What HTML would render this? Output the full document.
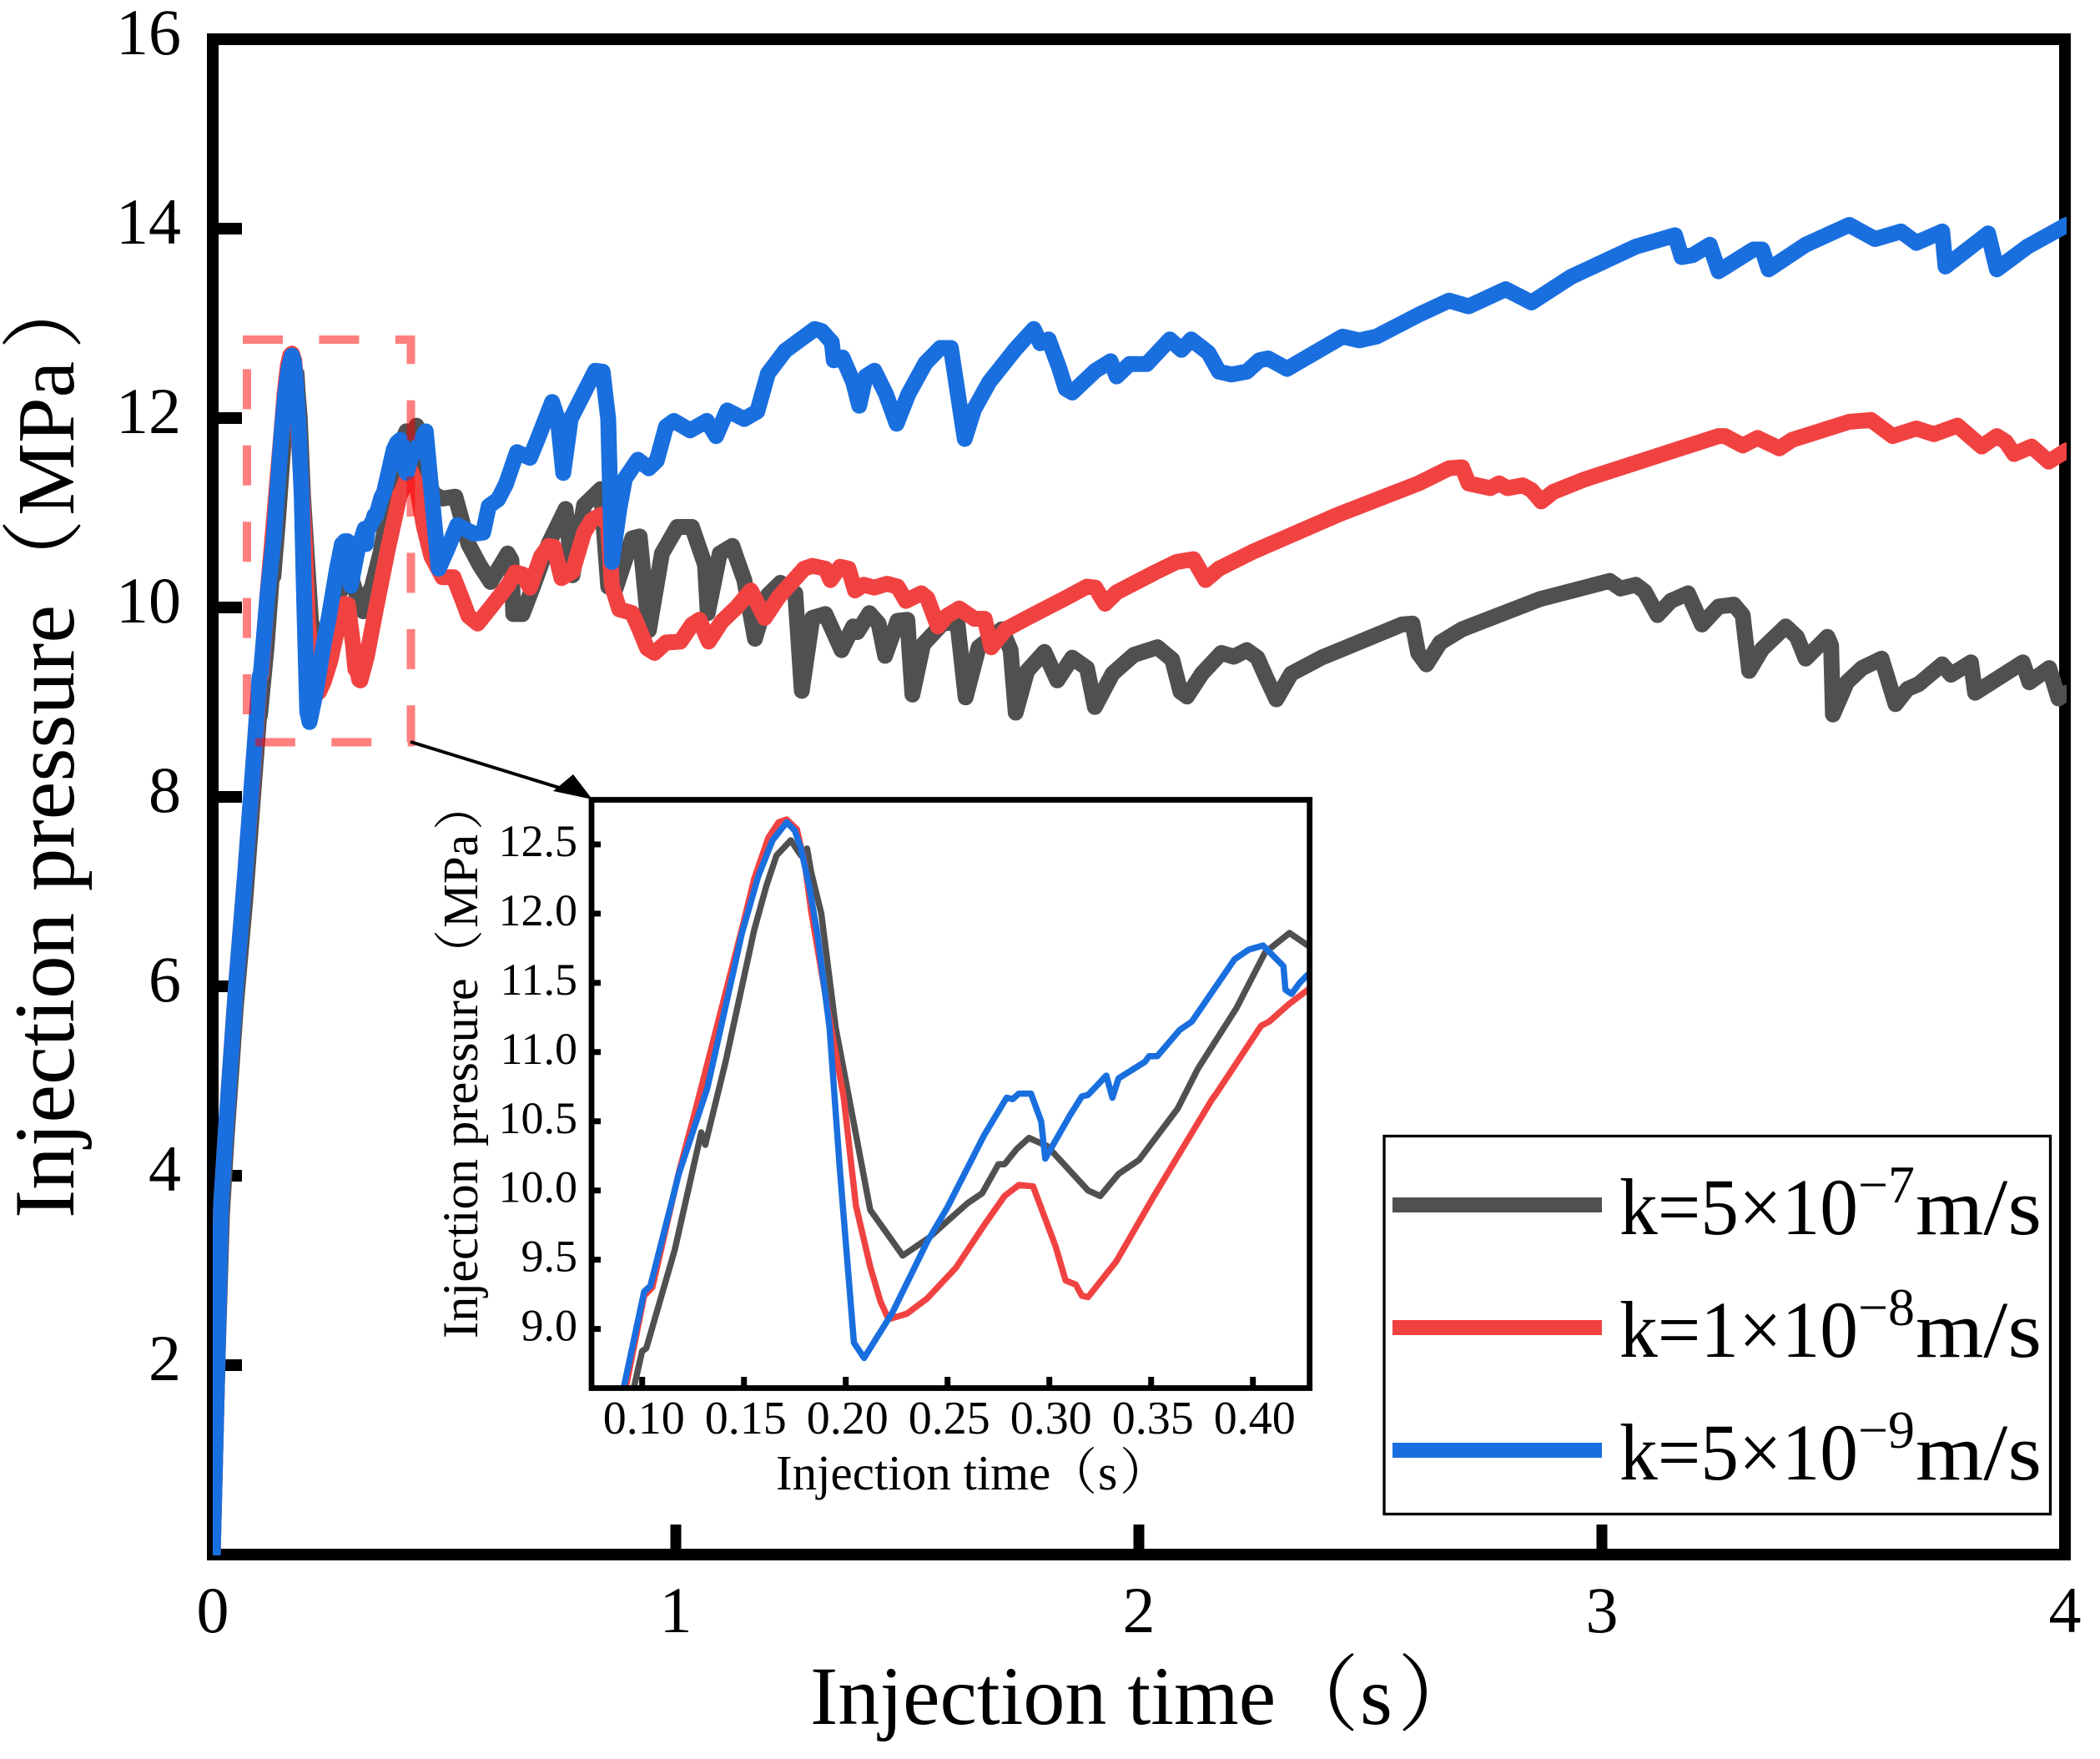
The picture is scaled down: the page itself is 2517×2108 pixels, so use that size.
<!DOCTYPE html>
<html lang="en">
<head>
<meta charset="utf-8">
<title>Injection pressure vs injection time</title>
<style>
html,body{margin:0;padding:0;background:#fff;width:2517px;height:2108px;overflow:hidden;}
svg{display:block;overflow:hidden;}
text{font-family:"Liberation Serif","Noto Serif CJK SC",serif;fill:#000;}
</style>
</head>
<body>
<svg id="chart" xmlns="http://www.w3.org/2000/svg" width="2517" height="2108" viewBox="0 0 2517 2108">
  <defs>
    <clipPath id="main-clip"><rect x="255" y="47" width="2222" height="1817"/></clipPath>
    <clipPath id="inset-clip"><rect x="706" y="957" width="864" height="707"/></clipPath>
  </defs>
  <rect x="255" y="47" width="2220" height="1816" fill="none" stroke="#000" stroke-width="14"/>
  <g id="main-ticks"></g>
  <g id="main-series" clip-path="url(#main-clip)"></g>
  <path d="M291 407H492.5V889.5H296V407" fill="none" stroke="#ff0000" stroke-opacity="0.5" stroke-width="10" stroke-dasharray="48 43.4"/>
  <line x1="492" y1="889" x2="680" y2="947" stroke="#000" stroke-width="4"/>
  <polygon points="663,948 687,928 710,958" fill="#000"/>

  <rect x="709" y="958.5" width="860.7" height="705" fill="#fff"/>
  <g id="inset-ticks"></g>
  <g id="inset-series" clip-path="url(#inset-clip)"></g>
  <rect x="709" y="958.5" width="860.7" height="705" fill="none" stroke="#000" stroke-width="6.8"/>

  <text font-size="100" y="2066"><tspan x="971">Injection time</tspan><tspan x="1529">（</tspan><tspan x="1630">s</tspan><tspan x="1675">）</tspan></text>
  <text font-size="103" transform="translate(88,1460) rotate(-90)"><tspan x="0">Injection pressure</tspan><tspan x="738" font-size="100">（</tspan><tspan x="842" font-size="98">MPa</tspan><tspan x="1041" font-size="100">）</tspan></text>
  <text font-size="59" y="1785"><tspan x="930">Injection time</tspan><tspan x="1255" font-size="60">（</tspan><tspan x="1316" font-size="60">s</tspan><tspan x="1342" font-size="60">）</tspan></text>
  <text font-size="60.5" transform="translate(572,1604) rotate(-90)"><tspan x="0">Injection pressure</tspan><tspan x="430" font-size="60">（</tspan><tspan x="492" font-size="59.3">MPa</tspan><tspan x="609" font-size="60">）</tspan></text>

  <g>
    <rect x="1659" y="1361.5" width="798.5" height="453" fill="#fff" stroke="#000" stroke-width="3.3"/>
    <rect x="1669" y="1435" width="251" height="18" fill="#505050"/>
    <text font-size="96" y="1479"><tspan x="1941" textLength="286" lengthAdjust="spacingAndGlyphs">k=5×10</tspan><tspan x="2227" y="1441" font-size="63" textLength="68" lengthAdjust="spacingAndGlyphs">−7</tspan><tspan x="2296" y="1479" textLength="151" lengthAdjust="spacingAndGlyphs">m/s</tspan></text>
    <rect x="1669" y="1582" width="251" height="18" fill="#F14242"/>
    <text font-size="96" y="1626"><tspan x="1941" textLength="286" lengthAdjust="spacingAndGlyphs">k=1×10</tspan><tspan x="2227" y="1588" font-size="63" textLength="68" lengthAdjust="spacingAndGlyphs">−8</tspan><tspan x="2296" y="1626" textLength="151" lengthAdjust="spacingAndGlyphs">m/s</tspan></text>
    <rect x="1669" y="1729" width="251" height="18" fill="#1A6FDF"/>
    <text font-size="96" y="1773"><tspan x="1941" textLength="286" lengthAdjust="spacingAndGlyphs">k=5×10</tspan><tspan x="2227" y="1735" font-size="63" textLength="68" lengthAdjust="spacingAndGlyphs">−9</tspan><tspan x="2296" y="1773" textLength="151" lengthAdjust="spacingAndGlyphs">m/s</tspan></text>
  </g>
</svg>
<script>
const mainXTicks = [0, 1, 2, 3, 4];
const mainXTickMarks = [1, 2, 3];
const mainYTicks = [2, 4, 6, 8, 10, 12, 14, 16];
const mainYTickMarks = [2, 4, 6, 8, 10, 12, 14];
const insetXTicks = [0.10, 0.15, 0.20, 0.25, 0.30, 0.35, 0.40];
const insetYTicks = [9.0, 9.5, 10.0, 10.5, 11.0, 11.5, 12.0, 12.5];

const greyTimes = [0,.01,.02,.03,.05,.07,.096,.1,.102,.116,.129,.131,.141,.155,.161,.166,.173,.178,.181,.183,.188,.195,.212,.228,.241,.25,.26,.267,.275,.278,.284,.29,.299,.319,.325,.334,.344,.363,.373,.392,.406,.418,.427,.44,.456,.476,.496,.524,.552,.576,.6,.637,.645,.649,.669,.697,.725,.762,.777,.794,.802,.838,.854,.87,.906,.922,.942,.97,1.003,1.035,1.063,1.069,1.095,1.122,1.148,1.171,1.199,1.226,1.258,1.272,1.295,1.323,1.358,1.383,1.392,1.418,1.438,1.452,1.479,1.5,1.511,1.534,1.576,1.608,1.626,1.654,1.704,1.723,1.734,1.759,1.796,1.824,1.856,1.888,1.905,1.943,1.989,2.04,2.072,2.09,2.104,2.136,2.178,2.205,2.233,2.256,2.274,2.297,2.329,2.394,2.449,2.568,2.591,2.603,2.621,2.651,2.698,2.867,3.017,3.04,3.073,3.092,3.12,3.149,3.186,3.216,3.252,3.285,3.304,3.318,3.346,3.397,3.421,3.44,3.487,3.495,3.499,3.529,3.562,3.604,3.634,3.66,3.684,3.735,3.754,3.797,3.806,3.909,3.923,3.966,3.986,4.004];
const greyPressure = [0,2,3.6,4.4,5.8,6.9,8.58,8.84,8.86,9.57,10.42,10.33,10.93,11.88,12.2,12.42,12.53,12.42,12.47,12.3,12,11.18,9.86,9.53,9.66,9.78,9.91,9.98,10.19,10.19,10.3,10.38,10.32,10,9.96,10.12,10.22,10.59,10.88,11.32,11.72,11.86,11.77,11.92,11.5,11.2,11.15,11.17,10.67,10.45,10.27,10.57,10.5,9.93,9.93,10.29,10.67,11.04,10.34,10.86,11.08,11.25,10.22,10.2,10.73,10.75,9.76,10.57,10.85,10.85,10.45,9.94,10.57,10.65,10.29,9.67,10.13,10.26,10.15,9.12,9.89,9.93,9.55,9.8,9.74,9.94,9.83,9.49,9.86,9.87,9.08,9.61,9.83,9.85,9.05,9.58,9.77,9.55,8.89,9.33,9.53,9.23,9.47,9.36,8.95,9.3,9.5,9.58,9.45,9.11,9.06,9.3,9.52,9.48,9.55,9.47,9.27,9.03,9.3,9.47,9.58,9.82,9.83,9.52,9.4,9.63,9.77,10.09,10.28,10.2,10.24,10.17,9.92,10.07,10.15,9.82,10.01,10.03,9.92,9.33,9.56,9.8,9.69,9.46,9.69,9.6,8.87,9.21,9.36,9.46,8.98,9.14,9.19,9.4,9.29,9.42,9.1,9.42,9.21,9.36,9.04,9.1];

const redTimes = [0,.01,.018,.03,.05,.07,.092,.101,.105,.118,.126,.149,.155,.162,.167,.171,.176,.18,.183,.192,.199,.205,.212,.217,.221,.23,.24,.254,.268,.278,.285,.292,.303,.308,.313,.316,.319,.333,.351,.364,.38,.382,.404,.408,.418,.427,.44,.456,.472,.496,.52,.54,.552,.572,.6,.637,.653,.669,.685,.709,.725,.737,.753,.777,.802,.818,.838,.854,.862,.878,.906,.922,.938,.954,.979,1.01,1.035,1.051,1.071,1.099,1.131,1.162,1.192,1.222,1.277,1.295,1.323,1.334,1.355,1.373,1.387,1.406,1.429,1.456,1.479,1.497,1.53,1.543,1.566,1.585,1.612,1.645,1.667,1.681,1.713,1.759,1.842,1.888,1.906,1.927,1.952,2.035,2.081,2.118,2.144,2.173,2.247,2.43,2.604,2.67,2.698,2.712,2.759,2.778,2.796,2.829,2.848,2.869,2.895,2.961,3.252,3.266,3.304,3.336,3.383,3.411,3.534,3.581,3.628,3.679,3.717,3.768,3.82,3.853,3.872,3.89,3.928,3.965,4.004];
const redPressure = [0,2,3.7,4.6,6,7.2,8.58,9.24,9.3,10.13,10.57,11.89,12.25,12.55,12.66,12.68,12.61,12.35,12.02,11.24,10.67,9.89,9.45,9.2,9.07,9.11,9.22,9.44,9.75,9.96,10.04,10.03,9.6,9.35,9.32,9.24,9.23,9.49,9.95,10.27,10.66,10.7,11.19,11.22,11.35,11.45,11.3,10.855,10.54,10.32,10.32,10.07,9.91,9.83,10,10.23,10.37,10.35,10.21,10.54,10.65,10.64,10.31,10.38,10.79,10.92,10.98,10.86,10.23,9.98,9.94,9.76,9.57,9.52,9.63,9.64,9.82,9.87,9.64,9.85,10,10.18,9.89,10.11,10.41,10.44,10.41,10.29,10.43,10.41,10.18,10.24,10.21,10.25,10.22,10.07,10.15,10.1,9.8,9.91,9.99,9.88,9.88,9.58,9.77,9.89,10.1,10.22,10.21,10.04,10.16,10.37,10.48,10.51,10.29,10.41,10.59,10.98,11.31,11.47,11.48,11.31,11.26,11.31,11.26,11.29,11.24,11.12,11.22,11.35,11.81,11.81,11.71,11.79,11.68,11.77,11.96,11.98,11.81,11.89,11.83,11.92,11.7,11.81,11.75,11.62,11.7,11.54,11.66];

const blueTimes = [0,.01,.018,.03,.05,.07,.091,.101,.104,.118,.132,.149,.157,.164,.171,.175,.178,.182,.186,.192,.197,.204,.209,.223,.24,.25,.268,.279,.282,.285,.291,.296,.298,.31,.316,.319,.328,.331,.334,.347,.349,.353,.364,.37,.391,.398,.405,.415,.416,.419,.423,.427,.46,.488,.508,.528,.564,.584,.596,.616,.633,.657,.685,.701,.733,.745,.757,.773,.802,.826,.842,.854,.862,.878,.89,.918,.942,.959,.979,.996,1.031,1.067,1.087,1.111,1.148,1.176,1.199,1.236,1.3,1.315,1.337,1.341,1.36,1.383,1.396,1.41,1.429,1.454,1.477,1.502,1.539,1.571,1.594,1.624,1.644,1.677,1.732,1.773,1.787,1.805,1.828,1.842,1.856,1.906,1.939,1.952,1.98,2.017,2.067,2.092,2.113,2.15,2.173,2.2,2.233,2.26,2.279,2.32,2.44,2.476,2.513,2.604,2.67,2.712,2.792,2.848,2.933,3.073,3.158,3.172,3.196,3.233,3.252,3.327,3.346,3.36,3.44,3.534,3.59,3.646,3.679,3.735,3.742,3.834,3.853,3.919,4.004];
const bluePressure = [0,2,3.7,4.6,6,7.2,8.58,9.27,9.31,10.12,10.74,11.86,12.27,12.53,12.66,12.6,12.47,12.2,11.86,11.18,10.17,8.9,8.79,9.12,9.63,9.88,10.4,10.67,10.66,10.7,10.7,10.5,10.23,10.54,10.68,10.69,10.83,10.67,10.81,10.93,10.97,10.97,11.16,11.22,11.67,11.74,11.77,11.62,11.45,11.42,11.5,11.56,11.86,10.41,10.63,10.87,10.78,10.79,11.07,11.14,11.3,11.64,11.58,11.77,12.17,11.99,11.42,11.99,12.27,12.5,12.49,11.99,10.48,11.04,11.36,11.56,11.47,11.55,11.91,11.97,11.87,11.97,11.81,12.08,11.99,12.07,12.47,12.71,12.94,12.92,12.8,12.61,12.64,12.38,12.13,12.44,12.5,12.25,11.94,12.25,12.58,12.74,12.74,11.78,12.09,12.38,12.72,12.94,12.79,12.83,12.53,12.31,12.27,12.5,12.6,12.44,12.57,12.57,12.83,12.72,12.83,12.69,12.49,12.46,12.49,12.61,12.63,12.52,12.86,12.82,12.86,13.09,13.24,13.18,13.36,13.22,13.49,13.81,13.93,13.7,13.72,13.83,13.55,13.78,13.78,13.57,13.83,14.04,13.89,13.97,13.85,13.97,13.6,13.95,13.57,13.81,14.04];

const SVG_NS = 'http://www.w3.org/2000/svg';
const COLOR_GREY = '#505050';
const COLOR_RED = '#F14242';
const COLOR_BLUE = '#1A6FDF';

function mainX(t) { return 255 + 555 * t; }
function mainY(v) { return 1863 - 113.5 * v; }
function insetX(t) { return 769.7 + 2440 * (t - 0.1); }
function insetY(v) { return 1592.6 - 165.9 * (v - 9); }

function drawSeries(parent, times, pressures, xScale, yScale, color, width, name) {
  const el = document.createElementNS(SVG_NS, 'path');
  
  
  let d = '';
  const n = Math.min(times.length, pressures.length);
  for (let i = 0; i < n; i++) {
    d += (i ? 'L' : 'M') + xScale(times[i]).toFixed(1) + ' ' + yScale(pressures[i]).toFixed(1);
  }
  el.setAttribute('d', d);
  el.setAttribute('fill', 'none');
  el.setAttribute('stroke', color);
  el.setAttribute('stroke-width', width);
  el.setAttribute('stroke-linejoin', 'round');
  el.setAttribute('stroke-linecap', 'round');
  parent.appendChild(el);
}

function drawTickMark(parent, x1, y1, x2, y2, width, name) {
  const el = document.createElementNS(SVG_NS, 'line');
  
  
  el.setAttribute('x1', x1);
  el.setAttribute('y1', y1);
  el.setAttribute('x2', x2);
  el.setAttribute('y2', y2);
  el.setAttribute('stroke', '#000');
  el.setAttribute('stroke-width', width);
  parent.appendChild(el);
}

function drawTickLabel(parent, x, y, label, size, anchor, name) {
  const el = document.createElementNS(SVG_NS, 'text');
  
  
  el.setAttribute('x', x);
  el.setAttribute('y', y);
  el.setAttribute('font-size', size);
  el.setAttribute('text-anchor', anchor);
  el.textContent = label;
  parent.appendChild(el);
}

const mainTicks = document.getElementById('main-ticks');
const insetTicks = document.getElementById('inset-ticks');
const mainSeries = document.getElementById('main-series');
const insetSeries = document.getElementById('inset-series');

mainYTickMarks.forEach(function (v) {
  drawTickMark(mainTicks, 255, mainY(v), 290, mainY(v), 14, 'y-tick-mark-' + v);
});
mainXTickMarks.forEach(function (t) {
  drawTickMark(mainTicks, mainX(t), 1863, mainX(t), 1827, 13, 'x-tick-mark-' + t);
});
mainYTicks.forEach(function (v) {
  drawTickLabel(mainTicks, 217, mainY(v) + 18, String(v), 78, 'end', 'y-tick-label-' + v);
});
mainXTicks.forEach(function (t) {
  drawTickLabel(mainTicks, mainX(t), 1956, String(t), 78, 'middle', 'x-tick-label-' + t);
});

drawSeries(mainSeries, greyTimes, greyPressure, mainX, mainY, COLOR_GREY, 19, 'series-k-5e-7');
drawSeries(mainSeries, redTimes, redPressure, mainX, mainY, COLOR_RED, 19, 'series-k-1e-8');
drawSeries(mainSeries, blueTimes, bluePressure, mainX, mainY, COLOR_BLUE, 19, 'series-k-5e-9');

insetYTicks.forEach(function (v) {
  drawTickMark(insetTicks, 706, insetY(v), 720, insetY(v), 7, 'inset-y-tick-mark-' + v);
  drawTickLabel(insetTicks, 692, insetY(v) + 14, v.toFixed(1), 54, 'end', 'inset-y-tick-label-' + v);
});
insetXTicks.forEach(function (t) {
  drawTickMark(insetTicks, insetX(t), 1664, insetX(t), 1650, 7, 'inset-x-tick-mark-' + t);
  drawTickLabel(insetTicks, insetX(t) + 2, 1718, t.toFixed(2), 56, 'middle', 'inset-x-tick-label-' + t);
});

drawSeries(insetSeries, greyTimes, greyPressure, insetX, insetY, COLOR_GREY, 7.5, 'inset-series-k-5e-7');
drawSeries(insetSeries, redTimes, redPressure, insetX, insetY, COLOR_RED, 7.5, 'inset-series-k-1e-8');
drawSeries(insetSeries, blueTimes, bluePressure, insetX, insetY, COLOR_BLUE, 7.5, 'inset-series-k-5e-9');
</script>
</body>
</html>
